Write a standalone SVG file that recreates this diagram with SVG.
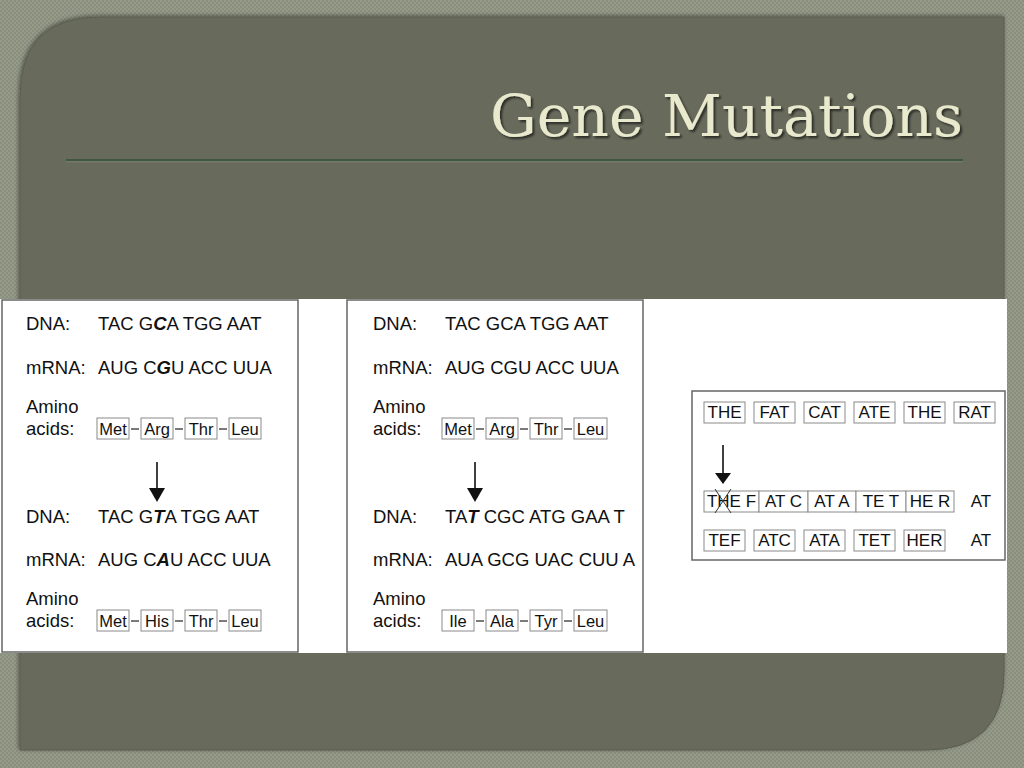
<svg xmlns="http://www.w3.org/2000/svg" width="1024" height="768" viewBox="0 0 1024 768">
<defs>
<pattern id="tex" width="4" height="4" patternUnits="userSpaceOnUse">
<rect width="4" height="4" fill="#8a8e7d"/>
<rect width="2" height="2" fill="#959a89"/>
<rect x="2" y="2" width="2" height="2" fill="#959a89"/>
</pattern>
<filter id="sh" x="-5%" y="-5%" width="110%" height="110%">
<feGaussianBlur in="SourceAlpha" stdDeviation="2"/>
<feOffset dx="-1" dy="-1"/>
<feComponentTransfer><feFuncA type="linear" slope="0.45"/></feComponentTransfer>
<feMerge><feMergeNode/><feMergeNode in="SourceGraphic"/></feMerge>
</filter>
<filter id="tsh" x="-5%" y="-20%" width="110%" height="140%">
<feGaussianBlur in="SourceAlpha" stdDeviation="1.2"/>
<feOffset dx="1.5" dy="2"/>
<feComponentTransfer><feFuncA type="linear" slope="0.6"/></feComponentTransfer>
<feMerge><feMergeNode/><feMergeNode in="SourceGraphic"/></feMerge>
</filter>
</defs>
<style>
.t{font-family:"Liberation Sans",Arial,sans-serif;font-size:18.5px;fill:#111}
.b{font-family:"Liberation Sans",Arial,sans-serif;font-size:16.5px;fill:#111;text-anchor:middle}
.w{font-family:"Liberation Sans",Arial,sans-serif;font-size:17px;fill:#111;text-anchor:middle}
.bi{font-weight:bold;font-style:italic}
.box{fill:#fff;stroke:#8a8a8a;stroke-width:1}
.dash{stroke:#222;stroke-width:1.2}
.frame{fill:#fff;stroke:#666;stroke-width:1.5}
.arr{stroke:#111;stroke-width:1.6}
</style>
<rect width="1024" height="768" fill="url(#tex)"/>
<path d="M100,17 L1004,17 L1004,672 Q1004,750 926,750 L20,750 L20,97 Q20,17 100,17 Z" fill="#676a5b" stroke="#5a5d50" stroke-width="1" filter="url(#sh)"/>
<g id="title">
<text x="963" y="136" text-anchor="end" font-family="'DejaVu Serif',serif" font-size="58" fill="#e9e9cd" textLength="473" lengthAdjust="spacingAndGlyphs" filter="url(#tsh)">Gene Mutations</text>
<line x1="66" y1="160" x2="963" y2="160" stroke="#3f5741" stroke-width="2"/>
<line x1="66" y1="161.8" x2="963" y2="161.8" stroke="#7e8772" stroke-width="0.8"/>
</g>
<rect x="0" y="299" width="1007" height="354" fill="#fff"/>
<g id="panel-point">
<rect class="frame" x="2" y="300" width="296" height="352"/>
<text class="t" x="26" y="330">DNA:</text>
<text class="t" x="98" y="330">TAC G<tspan class="bi">C</tspan>A TGG AAT</text>
<text class="t" x="26" y="374">mRNA:</text>
<text class="t" x="98" y="374">AUG C<tspan class="bi">G</tspan>U ACC UUA</text>
<text class="t" x="26" y="413">Amino</text>
<text class="t" x="26" y="435">acids:</text>
<rect class="box" x="97" y="418" width="32" height="21"/><text class="b" x="113" y="434.5">Met</text>
<rect class="box" x="141" y="418" width="32" height="21"/><text class="b" x="157" y="434.5">Arg</text>
<rect class="box" x="185" y="418" width="32" height="21"/><text class="b" x="201" y="434.5">Thr</text>
<rect class="box" x="229" y="418" width="32" height="21"/><text class="b" x="245" y="434.5">Leu</text>
<line class="dash" x1="131" y1="429" x2="139" y2="429"/>
<line class="dash" x1="175" y1="429" x2="183" y2="429"/>
<line class="dash" x1="219" y1="429" x2="227" y2="429"/>
<line class="arr" x1="157" y1="462" x2="157" y2="490"/>
<polygon points="149,488 165,488 157,502" fill="#111"/>
<text class="t" x="26" y="523">DNA:</text>
<text class="t" x="98" y="523">TAC G<tspan class="bi">T</tspan>A TGG AAT</text>
<text class="t" x="26" y="566">mRNA:</text>
<text class="t" x="98" y="566">AUG C<tspan class="bi">A</tspan>U ACC UUA</text>
<text class="t" x="26" y="605">Amino</text>
<text class="t" x="26" y="627">acids:</text>
<rect class="box" x="97" y="610" width="32" height="21"/><text class="b" x="113" y="626.5">Met</text>
<rect class="box" x="141" y="610" width="32" height="21"/><text class="b" x="157" y="626.5">His</text>
<rect class="box" x="185" y="610" width="32" height="21"/><text class="b" x="201" y="626.5">Thr</text>
<rect class="box" x="229" y="610" width="32" height="21"/><text class="b" x="245" y="626.5">Leu</text>
<line class="dash" x1="131" y1="621" x2="139" y2="621"/>
<line class="dash" x1="175" y1="621" x2="183" y2="621"/>
<line class="dash" x1="219" y1="621" x2="227" y2="621"/>
</g>
<g id="panel-frameshift">
<rect class="frame" x="347" y="300" width="296" height="352" stroke="#888"/>
<text class="t" x="373" y="330">DNA:</text>
<text class="t" x="445" y="330">TAC GCA TGG AAT</text>
<text class="t" x="373" y="374">mRNA:</text>
<text class="t" x="445" y="374">AUG CGU ACC UUA</text>
<text class="t" x="373" y="413">Amino</text>
<text class="t" x="373" y="435">acids:</text>
<rect class="box" x="442" y="418" width="32" height="21"/><text class="b" x="458" y="434.5">Met</text>
<rect class="box" x="486" y="418" width="32" height="21"/><text class="b" x="502" y="434.5">Arg</text>
<rect class="box" x="530" y="418" width="32" height="21"/><text class="b" x="546" y="434.5">Thr</text>
<rect class="box" x="574" y="418" width="33" height="21"/><text class="b" x="590.5" y="434.5">Leu</text>
<line class="dash" x1="476" y1="429" x2="484" y2="429"/>
<line class="dash" x1="520" y1="429" x2="528" y2="429"/>
<line class="dash" x1="564" y1="429" x2="572" y2="429"/>
<line class="arr" x1="475" y1="462" x2="475" y2="490"/>
<polygon points="467,488 483,488 475,502" fill="#111"/>
<text class="t" x="373" y="523">DNA:</text>
<text class="t" x="445" y="523">TA<tspan class="bi">T</tspan> CGC ATG GAA T</text>
<text class="t" x="373" y="566">mRNA:</text>
<text class="t" x="445" y="566">AUA GCG UAC CUU A</text>
<text class="t" x="373" y="605">Amino</text>
<text class="t" x="373" y="627">acids:</text>
<rect class="box" x="442" y="610" width="32" height="21"/><text class="b" x="458" y="626.5">Ile</text>
<rect class="box" x="486" y="610" width="32" height="21"/><text class="b" x="502" y="626.5">Ala</text>
<rect class="box" x="530" y="610" width="32" height="21"/><text class="b" x="546" y="626.5">Tyr</text>
<rect class="box" x="574" y="610" width="33" height="21"/><text class="b" x="590.5" y="626.5">Leu</text>
<line class="dash" x1="476" y1="621" x2="484" y2="621"/>
<line class="dash" x1="520" y1="621" x2="528" y2="621"/>
<line class="dash" x1="564" y1="621" x2="572" y2="621"/>
</g>
<g id="panel-words">
<rect class="frame" x="692" y="391" width="313" height="169" stroke="#888"/>
<rect class="box" x="704" y="402" width="41" height="21"/><text class="w" x="724.5" y="418">THE</text>
<rect class="box" x="754" y="402" width="41" height="21"/><text class="w" x="774.5" y="418">FAT</text>
<rect class="box" x="804" y="402" width="41" height="21"/><text class="w" x="824.5" y="418">CAT</text>
<rect class="box" x="854" y="402" width="41" height="21"/><text class="w" x="874.5" y="418">ATE</text>
<rect class="box" x="904" y="402" width="41" height="21"/><text class="w" x="924.5" y="418">THE</text>
<rect class="box" x="954" y="402" width="41" height="21"/><text class="w" x="974.5" y="418">RAT</text>
<line class="arr" x1="723" y1="445" x2="723" y2="475"/>
<polygon points="715,473 731,473 723,484" fill="#111"/>
<rect class="box" x="704" y="491" width="55" height="21"/><text class="w" x="731.5" y="507">THE F</text>
<rect class="box" x="759" y="491" width="49" height="21"/><text class="w" x="783.5" y="507">AT C</text>
<rect class="box" x="808" y="491" width="48" height="21"/><text class="w" x="832" y="507">AT A</text>
<rect class="box" x="856" y="491" width="50" height="21"/><text class="w" x="881" y="507">TE T</text>
<rect class="box" x="906" y="491" width="48" height="21"/><text class="w" x="930" y="507">HE R</text>
<line x1="715" y1="489" x2="731" y2="513" stroke="#333" stroke-width="1"/>
<line x1="731" y1="489" x2="715" y2="513" stroke="#333" stroke-width="1"/>
<text class="w" x="981" y="507">AT</text>
<rect class="box" x="704" y="530" width="41" height="21"/><text class="w" x="724.5" y="546">TEF</text>
<rect class="box" x="754" y="530" width="41" height="21"/><text class="w" x="774.5" y="546">ATC</text>
<rect class="box" x="804" y="530" width="41" height="21"/><text class="w" x="824.5" y="546">ATA</text>
<rect class="box" x="854" y="530" width="41" height="21"/><text class="w" x="874.5" y="546">TET</text>
<rect class="box" x="904" y="530" width="41" height="21"/><text class="w" x="924.5" y="546">HER</text>
<text class="w" x="981" y="546">AT</text>
</g>
</svg>
